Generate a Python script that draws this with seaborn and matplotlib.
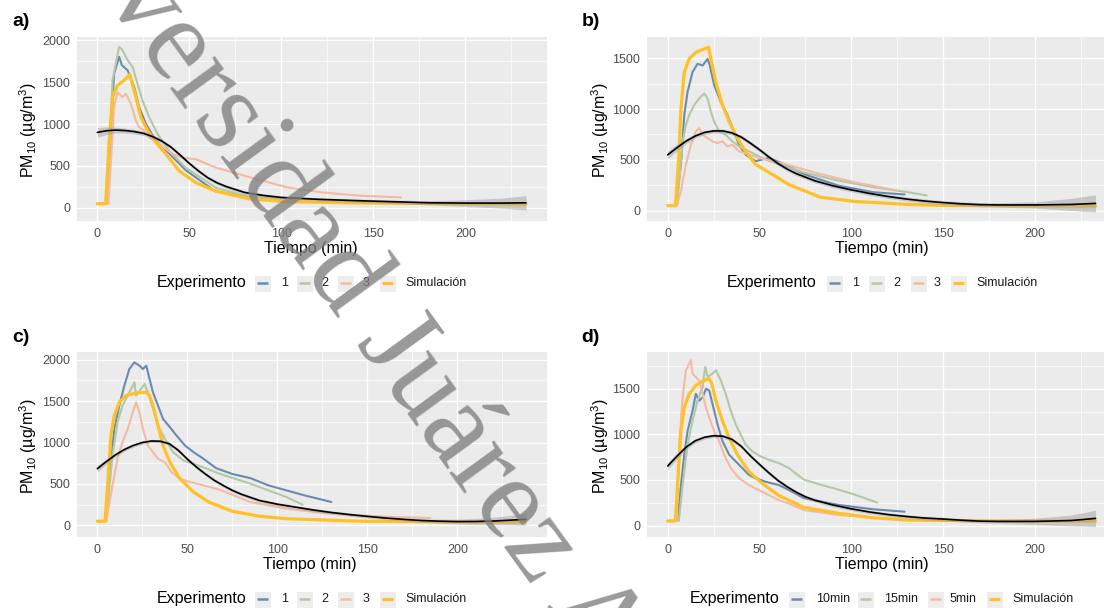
import numpy as np
import pandas as pd
import matplotlib
matplotlib.use("Agg")
import matplotlib.pyplot as plt
from matplotlib.lines import Line2D
from matplotlib.patches import Rectangle
import seaborn as sns

sns.set_theme(style="darkgrid")
plt.rcParams['font.family'] = ['Liberation Sans', 'DejaVu Sans']
plt.rcParams['mathtext.fontset'] = 'custom'
plt.rcParams['mathtext.rm'] = 'Liberation Sans'
plt.rcParams['mathtext.it'] = 'Liberation Sans:italic'
plt.rcParams['mathtext.default'] = 'regular'

# ---------------- data ----------------
# Panel a
a_sim_t = [0, 4.5, 6.4, 8.2, 10.9, 14.5, 17.6, 20.9, 23.6, 27.3, 31.8, 37.3, 44.5, 53.6, 64.5, 83, 103, 142, 190, 233]
a_sim_v = [50, 50, 800, 1320, 1460, 1520, 1588, 1320, 1080, 920, 780, 640, 440, 300, 200, 107, 75, 60, 52, 48]
a_e1_t = [0, 5.5, 7.3, 9.1, 11.8, 13.3, 16.4, 20, 22.7, 26.4, 31.8, 39, 48, 64, 80, 95]
a_e1_v = [50, 50, 920, 1600, 1800, 1700, 1640, 1440, 1200, 1000, 800, 650, 450, 200, 140, 95]
a_e2_t = [0, 5.5, 8.2, 11.8, 13.6, 16.4, 19.1, 21.8, 24.5, 28.2, 32.7, 39, 48, 64.5, 80, 100]
a_e2_v = [50, 50, 1520, 1920, 1880, 1760, 1680, 1480, 1280, 1080, 880, 680, 480, 240, 150, 100]
a_e3_t = [0, 6, 9.1, 10.9, 13.6, 15.5, 18.2, 20.9, 22.7, 25.5, 28.2, 33.6, 41, 46, 53.6, 64.5, 83, 103, 122, 142, 165]
a_e3_v = [50, 50, 1200, 1380, 1320, 1360, 1240, 1040, 960, 920, 840, 760, 640, 600, 580, 480, 365, 246, 186, 147, 127]
a_fit_t = [0, 5, 10, 15, 20, 25, 30, 35, 40, 45, 50, 55, 60, 65, 70, 80, 90, 100, 120, 140, 160, 180, 200, 220, 233]
a_fit_v = [900, 920, 928, 922, 910, 889, 850, 797, 725, 630, 530, 440, 360, 300, 255, 185, 150, 125, 103, 88, 75, 62, 58, 58, 62]
a_fit_se = [60, 45, 35, 30, 27, 25, 24, 23, 22, 21, 20, 20, 20, 20, 20, 20, 20, 20, 20, 20, 22, 25, 40, 60, 85]

# Panel b
b_sim_t = [0, 4.2, 6, 7.2, 9, 11.7, 15.3, 19, 22.2, 23.5, 26.2, 29.8, 33.4, 37.9, 42.4, 47.8, 56.9, 65.7, 83, 102, 131, 150, 190, 233]
b_sim_v = [50, 50, 520, 1006, 1364, 1494, 1558, 1585, 1607, 1494, 1266, 1039, 877, 714, 584, 455, 357, 260, 133, 91, 62, 52, 48, 46]
b_e1_t = [0, 4.5, 7.2, 9, 10.8, 13.5, 16.2, 19, 21.7, 22.9, 25.3, 28.9, 32.5, 36.1, 38.8, 42.4, 47.8, 55, 62, 74, 93, 112, 129]
b_e1_v = [50, 50, 455, 942, 1169, 1364, 1445, 1429, 1494, 1429, 1234, 1071, 942, 779, 649, 552, 487, 520, 470, 361, 247, 182, 160]
b_e2_t = [0, 5, 6.3, 8.1, 9.9, 11.7, 14.4, 17.1, 19.9, 21.7, 23.5, 25.3, 28, 31.6, 35.2, 38.8, 42.4, 47.8, 55, 74, 93, 112, 131, 141]
b_e2_v = [50, 50, 292, 682, 844, 942, 1039, 1104, 1153, 1104, 974, 877, 779, 747, 682, 633, 601, 552, 491, 377, 296, 231, 182, 150]
b_e3_t = [0, 5, 7.2, 9.9, 12.6, 15.3, 17.1, 19, 21.7, 24.4, 27, 29.8, 32.5, 35.2, 38.8, 44.2, 49.6, 56.9, 64, 83, 102, 125]
b_e3_v = [50, 50, 195, 455, 649, 779, 812, 747, 714, 682, 666, 682, 633, 649, 584, 552, 520, 487, 459, 361, 280, 198]
b_fit_t = [0, 5, 10, 15, 20, 25, 30, 35, 40, 45, 50, 55, 60, 65, 70, 80, 90, 100, 110, 120, 130, 140, 150, 160, 170, 180, 200, 220, 233]
b_fit_v = [550, 620, 685, 735, 770, 785, 785, 765, 725, 665, 600, 530, 465, 410, 365, 295, 245, 205, 170, 140, 115, 95, 80, 68, 60, 57, 57, 62, 72]
b_fit_se = [40, 32, 25, 22, 21, 20, 20, 20, 20, 20, 20, 20, 20, 20, 20, 20, 20, 20, 20, 20, 20, 20, 20, 20, 20, 22, 30, 60, 85]

# Panel c
c_sim_t = [0, 4.3, 6.2, 7.5, 9.4, 12.2, 15.9, 21.5, 27.2, 29, 30.9, 33.7, 36.5, 40.3, 45.9, 53.4, 62, 75, 90, 105, 145, 190, 238]
c_sim_v = [50, 50, 643, 1084, 1325, 1486, 1566, 1598, 1606, 1566, 1446, 1205, 964, 763, 562, 402, 280, 170, 110, 80, 50, 42, 40]
c_e1_t = [0, 4.7, 6.6, 9.4, 12.2, 15, 17.8, 20.6, 23.4, 25.3, 27.2, 29, 30.9, 33.7, 36.5, 40.3, 44, 48.7, 53.4, 59, 66, 75, 85, 95, 105, 115, 130]
c_e1_v = [50, 50, 562, 1165, 1446, 1687, 1888, 1968, 1928, 1888, 1928, 1767, 1606, 1446, 1285, 1185, 1084, 964, 884, 803, 690, 620, 570, 483, 422, 362, 282]
c_e2_t = [0, 5, 8.4, 11.2, 14, 17.8, 20.6, 21.5, 24.3, 26.2, 28.1, 30.9, 33.7, 37.5, 42.1, 47.8, 53.4, 60.9, 68, 85, 95, 105, 114]
c_e2_v = [50, 50, 843, 1245, 1446, 1606, 1727, 1566, 1647, 1707, 1606, 1406, 1205, 1044, 884, 783, 743, 683, 622, 503, 422, 342, 250]
c_e3_t = [0, 5, 8.4, 11.2, 14, 16.9, 19.7, 21.5, 23.4, 25.3, 28.1, 30.9, 33.7, 37.5, 41.2, 45.9, 51.5, 59, 68, 85, 105, 125, 145, 165, 185]
c_e3_v = [50, 50, 482, 803, 1004, 1165, 1365, 1486, 1365, 1165, 964, 884, 803, 763, 643, 562, 522, 482, 430, 282, 201, 149, 121, 100, 88]
c_fit_t = [0, 5, 10, 15, 20, 25, 30, 35, 40, 45, 50, 55, 60, 65, 70, 75, 80, 90, 100, 110, 120, 130, 140, 150, 160, 170, 180, 190, 200, 210, 220, 230, 238]
c_fit_v = [684, 770, 850, 915, 965, 1000, 1018, 1015, 985, 905, 800, 704, 620, 543, 480, 422, 375, 300, 255, 220, 185, 155, 130, 108, 88, 72, 58, 50, 45, 46, 52, 63, 72]
c_fit_se = [40, 32, 25, 22, 21, 20, 20, 20, 20, 20, 20, 20, 20, 20, 20, 20, 20, 20, 20, 20, 20, 20, 20, 20, 20, 20, 22, 26, 30, 38, 45, 58, 70]

# Panel d
d_sim_t = [0, 4.2, 6, 7.2, 9, 11.7, 15.3, 19, 22.6, 24, 26.2, 29.8, 33.4, 37.9, 44.2, 51.4, 60.5, 74, 93, 112, 131, 180, 233]
d_sim_v = [50, 50, 667, 1037, 1296, 1444, 1537, 1585, 1611, 1556, 1370, 1148, 963, 778, 593, 463, 330, 200, 134, 85, 59, 50, 48]
d_e10_t = [0, 5.4, 7.2, 9, 10.8, 13.5, 15.3, 17.1, 19, 20.8, 22.6, 24.4, 27.1, 29.8, 33.4, 37, 40.6, 44.2, 47.8, 53.2, 60.5, 66, 74, 93, 112, 129]
d_e10_v = [50, 50, 444, 778, 1037, 1259, 1444, 1370, 1407, 1500, 1481, 1333, 1111, 926, 778, 704, 630, 556, 519, 481, 444, 389, 301, 226, 178, 152]
d_e15_t = [0, 6, 8.1, 10.8, 13.5, 16.2, 19, 20.4, 21.7, 24.4, 26.2, 28.9, 31.6, 34.3, 37, 39.7, 42.4, 46, 50.5, 55, 60.5, 66, 74, 83, 93, 102, 114]
d_e15_v = [50, 50, 444, 889, 1148, 1370, 1519, 1741, 1630, 1667, 1704, 1593, 1444, 1259, 1111, 1000, 889, 815, 759, 722, 685, 630, 505, 449, 394, 338, 252]
d_e5_t = [0, 4.9, 6.3, 8.1, 9.9, 11.7, 12.6, 13.5, 15.3, 17.1, 19, 20.8, 22.6, 25.3, 28, 30.7, 34.3, 38.8, 44.2, 51.4, 60.5, 66, 74, 93, 110]
d_e5_v = [50, 50, 889, 1407, 1704, 1778, 1815, 1667, 1630, 1593, 1444, 1296, 1185, 1037, 926, 778, 630, 519, 444, 370, 278, 241, 171, 115, 90]
d_fit_t = [0, 5, 10, 15, 20, 25, 30, 35, 40, 45, 50, 55, 60, 65, 70, 75, 80, 90, 100, 110, 120, 130, 140, 150, 160, 170, 180, 200, 220, 233]
d_fit_v = [653, 760, 860, 930, 968, 985, 980, 945, 870, 765, 670, 579, 495, 425, 365, 315, 278, 225, 183, 148, 120, 99, 82, 71, 58, 48, 45, 45, 55, 78]
d_fit_se = [40, 32, 25, 22, 21, 20, 20, 20, 20, 20, 20, 20, 20, 20, 20, 20, 20, 20, 20, 20, 20, 20, 20, 20, 20, 20, 22, 35, 60, 90]

labels_abc = ["1", "2", "3"]
labels_d = ["10min", "15min", "5min"]
sim_label = "Simulación"

COL_EXP = ["#6A8BAE", "#B3C8A6", "#F3BBA3"]
COL_SIM = "#FFC125"
BG = "#EBEBEB"

W, H = 1104, 608
fig = plt.figure(figsize=(W / 100, H / 100), dpi=100)


def axes_px(left, top, right, bottom):
    return fig.add_axes([left / W, 1 - bottom / H, (right - left) / W, (bottom - top) / H])


def draw_panel(ax, exps, labels, sim, fit, xlim, ylim, yticks, yminor):
    rows = []
    for (t, v), lab in zip(exps, labels):
        rows += [(tt, vv, lab) for tt, vv in zip(t, v)]
    df = pd.DataFrame(rows, columns=["t", "v", "serie"])
    sns.lineplot(data=df, x="t", y="v", hue="serie", hue_order=labels,
                 palette=dict(zip(labels, COL_EXP)), estimator=None, sort=False,
                 legend=False, lw=1.5, ax=ax, zorder=3)
    dsim = pd.DataFrame({"t": sim[0], "v": sim[1]})
    sns.lineplot(data=dsim, x="t", y="v", color=COL_SIM, lw=2.3, estimator=None,
                 sort=False, legend=False, ax=ax, zorder=4)
    ft, fv, fse = (np.asarray(x, float) for x in fit)
    ax.fill_between(ft, fv - fse, fv + fse, color="#9A9A9A", alpha=0.45, lw=0, zorder=5)
    ax.plot(ft, fv, color="black", lw=1.2, zorder=6)
    ax.set_facecolor(BG)
    ax.set_xlim(*xlim)
    ax.set_ylim(*ylim)
    ax.set_xticks([0, 50, 100, 150, 200])
    ax.set_xticks([25, 75, 125, 175, 225], minor=True)
    ax.set_yticks(yticks)
    ax.set_yticks(yminor, minor=True)
    ax.grid(which="major", color="white", lw=1.0)
    ax.grid(which="minor", color="white", lw=0.5)
    ax.set_axisbelow(True)
    for s in ax.spines.values():
        s.set_visible(False)
    ax.tick_params(which="major", length=3, width=0.8, color="#333333",
                   labelsize=9, labelcolor="#4D4D4D", pad=2)
    ax.tick_params(which="minor", length=0)
    ax.set_xlabel("")
    ax.set_ylabel("")


ax_a = axes_px(77, 37, 547, 221)
draw_panel(ax_a, [(a_e1_t, a_e1_v), (a_e2_t, a_e2_v), (a_e3_t, a_e3_v)], labels_abc,
           (a_sim_t, a_sim_v), (a_fit_t, a_fit_v, a_fit_se),
           (-11.1, 244.4), (-155, 2036), [0, 500, 1000, 1500, 2000], [250, 750, 1250, 1750])
ax_b = axes_px(647, 37, 1104, 221)
draw_panel(ax_b, [(b_e1_t, b_e1_v), (b_e2_t, b_e2_v), (b_e3_t, b_e3_v)], labels_abc,
           (b_sim_t, b_sim_v), (b_fit_t, b_fit_v, b_fit_se),
           (-11.3, 237.6), (-101, 1709), [0, 500, 1000, 1500], [250, 750, 1250])
ax_c = axes_px(77, 352, 547, 537)
draw_panel(ax_c, [(c_e1_t, c_e1_v), (c_e2_t, c_e2_v), (c_e3_t, c_e3_v)], labels_abc,
           (c_sim_t, c_sim_v), (c_fit_t, c_fit_v, c_fit_se),
           (-11.3, 249.8), (-141, 2093), [0, 500, 1000, 1500, 2000], [250, 750, 1250, 1750])
ax_d = axes_px(647, 352, 1104, 537)
draw_panel(ax_d, [(d_e10_t, d_e10_v), (d_e15_t, d_e15_v), (d_e5_t, d_e5_v)], labels_d,
           (d_sim_t, d_sim_v), (d_fit_t, d_fit_v, d_fit_se),
           (-11.3, 237.6), (-126, 1904), [0, 500, 1000, 1500], [250, 750, 1250, 1750])

# overlay in pixel coordinates for titles, legends and watermark
ov = fig.add_axes([0, 0, 1, 1], facecolor="none")
ov.set_xlim(0, W)
ov.set_ylim(H, 0)
ov.axis("off")

ylab = "PM$_{10}$ (µg/m$^{3}$)"
for (px, py, lab) in [(21, 21, "a)"), (591, 21, "b)"), (21, 337, "c)"), (590, 337, "d)")]:
    ov.text(px, py, lab, fontsize=14, fontweight="bold", ha="center", va="center", color="black")
for (px, py) in [(311, 248), (882, 248), (310, 565), (882, 565)]:
    ov.text(px, py, "Tiempo (min)", fontsize=11.5, ha="center", va="center", color="black")
for (px, py) in [(28, 130), (600, 130), (28, 446), (600, 446)]:
    ov.text(px, py, ylab, fontsize=11.5, ha="center", va="center", rotation=90, color="black")


def draw_legend(y, title_x, boxes, label_xs, labels):
    ov.text(title_x, y, "Experimento", fontsize=11.5, ha="left", va="center", color="black")
    cols = COL_EXP + [COL_SIM]
    for bx, lx, lab, c in zip(boxes, label_xs, labels, cols):
        ov.add_patch(Rectangle((bx, y - 8.5), 17, 17, facecolor="#EDEDED", edgecolor="white", lw=0.8))
        ov.add_line(Line2D([bx + 3, bx + 14], [y, y], color=c, lw=2.2 if c == COL_SIM else 1.8,
                           solid_capstyle="butt"))
        ov.text(lx, y, lab, fontsize=9, ha="left", va="center", color="#1A1A1A")


draw_legend(283, 157, [254, 296, 337, 379], [281, 321, 363, 405], labels_abc + [sim_label])
draw_legend(283, 727, [826, 868, 910, 950], [852, 893, 934, 976], labels_abc + [sim_label])
draw_legend(599, 157, [254, 296, 337, 379], [281, 321, 363, 405], labels_abc + [sim_label])
draw_legend(599, 690, [788, 857, 927, 986], [816, 884, 950, 1012], labels_d + [sim_label])

# watermark
ov.text(-1, -148, "Universidad Juárez Autónoma de Tabasco", fontsize=85,
        family="Liberation Serif", color="#808080", alpha=0.8, rotation=-54,
        rotation_mode="anchor", ha="left", va="baseline", zorder=20)

fig.savefig("out.png", dpi=100)
